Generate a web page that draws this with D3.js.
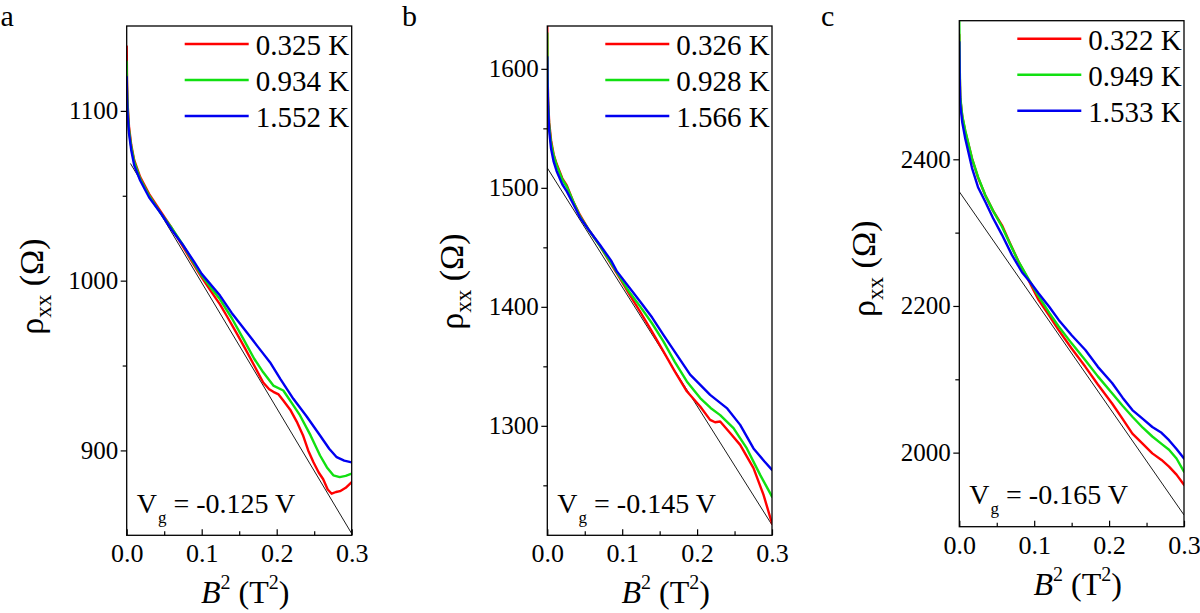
<!DOCTYPE html>
<html><head><meta charset="utf-8">
<script src="https://cdn.jsdelivr.net/npm/d3@7"></script>
<style>
body{margin:0;background:#fff}
svg{display:block}
text{font-family:"Liberation Serif","Times New Roman",serif;fill:#000}
</style>
</head><body>
<svg id="chart" width="1200" height="613"></svg>
<script>
// ---------- data ----------
const xMajorTicks = [0, 0.1, 0.2, 0.3];
const xMinorTicks = [0.05, 0.15, 0.25];
const seriesColors = ["#ff0000", "#11e011", "#0000f0"];

// panel a
const aLabel = "a";
const aGate = "-0.125 V";
const aTemps = ["0.325 K", "0.934 K", "1.552 K"];
const aYMajor = [900, 1000, 1100];
const aYMinor = [950, 1050];
const aYDomain = [850, 1150];
const aRed = [[0,1138],[0.0004,1118],[0.0012,1104],[0.003,1091],[0.006,1080],[0.01,1071],[0.018,1061],[0.03,1051],[0.045,1041],[0.06,1031],[0.075,1020],[0.09,1009],[0.1,1002],[0.112,994],[0.1244,986],[0.135,978],[0.1467,969],[0.158,960],[0.17,950],[0.182,940],[0.19,936],[0.1955,934.5],[0.2025,933],[0.2088,929.4],[0.218,924],[0.2267,917],[0.235,909],[0.242,900],[0.249,893],[0.256,887],[0.262,883],[0.268,877],[0.2733,874.5],[0.279,875.5],[0.2844,876],[0.292,878],[0.3,881.3]];
const aGreen = [[0,1129],[0.0004,1114],[0.0012,1102],[0.003,1089],[0.006,1079],[0.01,1070],[0.018,1060],[0.03,1050],[0.045,1040],[0.06,1031],[0.075,1021],[0.09,1010],[0.1,1003],[0.112,996],[0.1244,989],[0.14,978],[0.1555,965.7],[0.17,954],[0.182,946],[0.1955,938.2],[0.2088,935.3],[0.22,928],[0.2311,920.6],[0.245,909],[0.2578,897],[0.267,890],[0.2755,885.3],[0.284,884.3],[0.292,885],[0.3,886.3]];
const aBlue = [[0,1120],[0.0004,1108],[0.0012,1098],[0.003,1087],[0.006,1077],[0.01,1068],[0.018,1059],[0.03,1049],[0.045,1040],[0.06,1030],[0.075,1021],[0.09,1011],[0.1,1004],[0.1244,991.2],[0.14,981],[0.16,969.6],[0.175,961],[0.191,952],[0.205,942],[0.2222,930.4],[0.24,920],[0.2578,908.8],[0.27,901],[0.28,896],[0.29,894],[0.3,893]];
const aFit = [[0.005,1069],[0.3,851]];

// panel b
const bLabel = "b";
const bGate = "-0.145 V";
const bTemps = ["0.326 K", "0.928 K", "1.566 K"];
const bYMajor = [1300, 1400, 1500, 1600];
const bYMinor = [1250, 1350, 1450, 1550];
const bYDomain = [1208, 1636];
const bRed = [[0,1636],[0.0003,1600],[0.001,1575],[0.0025,1555],[0.005,1540],[0.0085,1528],[0.0125,1520],[0.02,1508],[0.026,1502],[0.035,1488],[0.0437,1477],[0.055,1465],[0.0704,1451],[0.085,1436],[0.097,1424],[0.11,1410],[0.1239,1396],[0.14,1379],[0.155,1362.5],[0.17,1346],[0.1863,1329],[0.2041,1316.3],[0.2174,1305],[0.224,1303],[0.2308,1303.6],[0.2441,1293.9],[0.2575,1284],[0.2753,1264.4],[0.2887,1242],[0.3,1218]];
const bGreen = [[0,1630],[0.0003,1600],[0.001,1572],[0.0025,1552],[0.005,1538],[0.0085,1527],[0.0125,1519],[0.02,1507],[0.026,1501],[0.035,1488],[0.0437,1476],[0.055,1465],[0.0704,1451],[0.085,1437],[0.097,1425],[0.11,1412],[0.1239,1400.4],[0.14,1386],[0.155,1371],[0.17,1354],[0.1863,1337.3],[0.2041,1323.3],[0.218,1315],[0.2308,1309],[0.2486,1298],[0.2664,1281],[0.2842,1258.8],[0.3,1240.5]];
const bBlue = [[0,1610],[0.0003,1590],[0.001,1568],[0.0025,1548],[0.005,1533],[0.0085,1522],[0.0125,1514],[0.02,1503],[0.026,1497],[0.035,1486],[0.0437,1475],[0.055,1465],[0.0704,1452],[0.085,1439],[0.0927,1430],[0.1239,1404.5],[0.14,1391],[0.155,1376.5],[0.1907,1343],[0.2174,1326],[0.2397,1314.9],[0.2575,1300.8],[0.2753,1281],[0.29,1270],[0.3,1263]];
const bFit = [[0,1516.7],[0.3,1216.7]];

// panel c
const cLabel = "c";
const cGate = "-0.165 V";
const cTemps = ["0.322 K", "0.949 K", "1.533 K"];
const cYMajor = [2000, 2200, 2400];
const cYMinor = [2100, 2300];
const cYDomain = [1899, 2589];
const cRed = [[0,2570],[0.0005,2520],[0.0013,2483],[0.004,2458],[0.008,2438],[0.017,2401],[0.025,2375],[0.0347,2351],[0.045,2330],[0.057,2310],[0.068,2285],[0.0793,2260],[0.09,2240],[0.106,2208],[0.12,2187],[0.1327,2167],[0.15,2142],[0.1683,2117],[0.185,2093],[0.204,2067],[0.218,2046],[0.2311,2026],[0.245,2012],[0.2577,1999],[0.27,1990],[0.28,1981],[0.29,1970],[0.3,1956]];
const cGreen = [[0,2588],[0.0005,2530],[0.0013,2485],[0.004,2459],[0.008,2439],[0.017,2401],[0.025,2376],[0.0347,2351],[0.045,2330],[0.057,2308],[0.068,2284],[0.0793,2260],[0.09,2241],[0.106,2213],[0.12,2191],[0.1327,2172],[0.15,2149],[0.1683,2126],[0.185,2104],[0.204,2081],[0.218,2064],[0.2311,2049],[0.245,2034],[0.2577,2022],[0.27,2012],[0.28,2004],[0.29,1992],[0.3,1974]];
const cBlue = [[0,2560],[0.0005,2510],[0.0013,2475],[0.004,2450],[0.008,2428],[0.017,2388],[0.025,2362],[0.0347,2342],[0.045,2320],[0.057,2297],[0.07,2270],[0.0837,2246],[0.095,2232],[0.106,2217],[0.12,2199],[0.1327,2181],[0.15,2160],[0.1683,2140],[0.185,2117],[0.204,2095],[0.218,2075],[0.2311,2058],[0.245,2046],[0.2577,2035],[0.27,2027],[0.28,2017],[0.29,2005],[0.3,1992]];
const cFit = [[0,2355.8],[0.3,1915]];

// ---------- layout ----------
const panels = [
  {label:aLabel, gate:aGate, temps:aTemps, yMajor:aYMajor, yMinor:aYMinor, yDomain:aYDomain, series:[aRed,aGreen,aBlue], fit:aFit,
   left:126.7, right:351.7, top:26, bottom:535.3, letterX:0.5, yTitleDy:6},
  {label:bLabel, gate:bGate, temps:bTemps, yMajor:bYMajor, yMinor:bYMinor, yDomain:bYDomain, series:[bRed,bGreen,bBlue], fit:bFit,
   left:547.3, right:772, top:26, bottom:535.3, letterX:402, yTitleDy:1},
  {label:cLabel, gate:cGate, temps:cTemps, yMajor:cYMajor, yMinor:cYMinor, yDomain:cYDomain, series:[cRed,cGreen,cBlue], fit:cFit,
   left:959.3, right:1184, top:20.7, bottom:526.7, letterX:821, yTitleDy:-5}
];

const svg = d3.select("#chart");
const defs = svg.append("defs");

panels.forEach((p, idx) => {
  const x = d3.scaleLinear().domain([0, 0.3]).range([p.left, p.right]);
  const y = d3.scaleLinear().domain(p.yDomain).range([p.bottom, p.top]);
  const clipId = "clip" + idx;
  defs.append("clipPath").attr("id", clipId).append("rect")
    .attr("x", p.left).attr("y", p.top).attr("width", p.right - p.left).attr("height", p.bottom - p.top);

  const plot = svg.append("g").attr("clip-path", `url(#${clipId})`);
  const line = d3.line().x(d => x(d[0])).y(d => y(d[1]));

  // linear fit line
  plot.append("path").attr("d", line(p.fit)).attr("fill", "none")
    .attr("stroke", "#000").attr("stroke-width", 0.9);

  // data curves
  p.series.forEach((s, i) => {
    plot.append("path").attr("d", line(s)).attr("fill", "none")
      .attr("stroke", seriesColors[i]).attr("stroke-width", 2.4)
      .attr("stroke-linejoin", "round").attr("stroke-linecap", "round");
  });

  // y axis (major)
  const yAx = svg.append("g").attr("transform", `translate(${p.left},0)`)
    .call(d3.axisLeft(y).tickValues(p.yMajor).tickSize(6).tickSizeOuter(0).tickPadding(2.5).tickFormat(d3.format("d")));
  yAx.select(".domain").remove();
  yAx.selectAll("text").attr("font-size", 25).attr("fill", "#000");
  yAx.selectAll("line").attr("stroke", "#000").attr("stroke-width", 1.2);
  yAx.attr("font-family", null);
  // y axis (minor)
  const yMin = svg.append("g").attr("transform", `translate(${p.left},0)`)
    .call(d3.axisLeft(y).tickValues(p.yMinor).tickSize(4).tickSizeOuter(0).tickFormat(""));
  yMin.select(".domain").remove();
  yMin.selectAll("line").attr("stroke", "#000").attr("stroke-width", 1.2);

  // x axis (major, inward ticks)
  const xAx = svg.append("g").attr("transform", `translate(0,${p.bottom})`)
    .call(d3.axisBottom(x).tickValues(xMajorTicks).tickSize(-6).tickSizeOuter(0).tickPadding(8.5).tickFormat(d3.format(".1f")));
  xAx.select(".domain").remove();
  xAx.selectAll("text").attr("font-size", 26).attr("fill", "#000");
  xAx.selectAll("line").attr("stroke", "#000").attr("stroke-width", 1.2);
  xAx.attr("font-family", null);
  const xMin = svg.append("g").attr("transform", `translate(0,${p.bottom})`)
    .call(d3.axisBottom(x).tickValues(xMinorTicks).tickSize(-4).tickSizeOuter(0).tickFormat(""));
  xMin.select(".domain").remove();
  xMin.selectAll("line").attr("stroke", "#000").attr("stroke-width", 1.2);

  // frame
  svg.append("rect").attr("x", p.left).attr("y", p.top)
    .attr("width", p.right - p.left).attr("height", p.bottom - p.top)
    .attr("fill", "none").attr("stroke", "#000").attr("stroke-width", 1.3);

  // legend
  const leg = svg.append("g");
  p.temps.forEach((t, i) => {
    const ly = p.top + 18 + i * 36;
    leg.append("line").attr("x1", p.left + 58).attr("x2", p.left + 122)
      .attr("y1", ly).attr("y2", ly).attr("stroke", seriesColors[i]).attr("stroke-width", 2.6);
    leg.append("text").attr("x", p.left + 129).attr("y", ly + 11)
      .attr("font-size", 29).text(t);
  });

  // gate voltage annotation
  const vg = svg.append("text").attr("x", p.left + 10).attr("y", p.bottom - 22.5).attr("font-size", 28);
  vg.append("tspan").text("V");
  vg.append("tspan").attr("font-size", 17).attr("dy", 10).attr("dx", 1).text("g");
  vg.append("tspan").attr("dy", -10).text(" = " + p.gate);

  // x title
  const cx = (p.left + p.right) / 2 + 6;
  const xt = svg.append("text").attr("x", cx).attr("y", p.bottom + 68)
    .attr("text-anchor", "middle").attr("font-size", 32);
  xt.append("tspan").attr("font-style", "italic").text("B");
  xt.append("tspan").attr("font-size", 20).attr("dy", -14).text("2");
  xt.append("tspan").attr("dy", 14).text(" (T");
  xt.append("tspan").attr("font-size", 20).attr("dy", -14).text("2");
  xt.append("tspan").attr("dy", 14).text(")");

  // y title
  const cy = (p.top + p.bottom) / 2 + p.yTitleDy;
  const yt = svg.append("text")
    .attr("transform", `translate(${p.left - 84},${cy}) rotate(-90)`)
    .attr("text-anchor", "middle").attr("font-size", 34);
  yt.append("tspan").text("ρ");
  yt.append("tspan").attr("font-size", 23).attr("dy", 8).text("xx");
  yt.append("tspan").attr("dy", -8).text(" (Ω)");

  // panel letter
  svg.append("text").attr("x", p.letterX).attr("y", 26).attr("font-size", 30).text(p.label);
});
</script>
</body></html>
